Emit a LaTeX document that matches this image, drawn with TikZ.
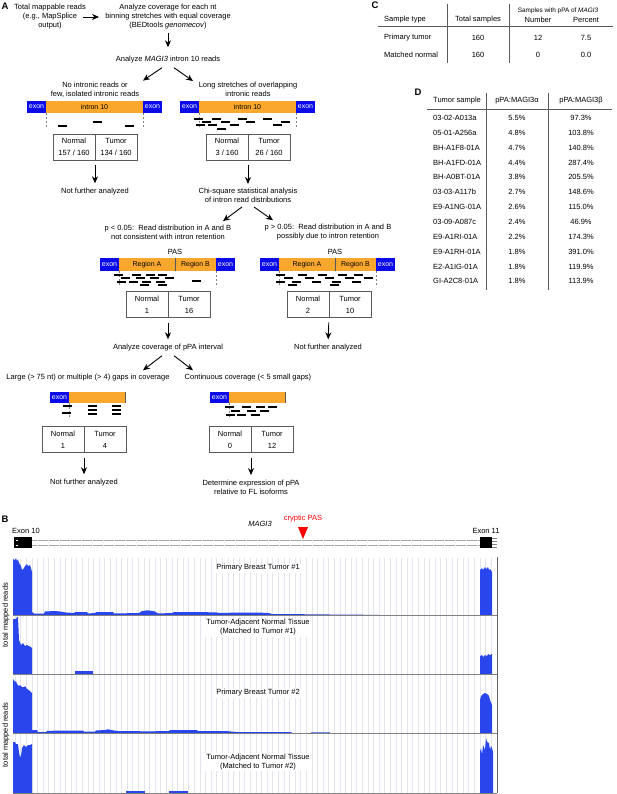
\documentclass[tikz,border=0pt]{standalone}
\usepackage{fontspec}
\setmainfont{Liberation Sans}
\usetikzlibrary{arrows.meta, positioning}

\definecolor{exonblue}{RGB}{10,10,235}
\definecolor{intronorange}{RGB}{250,168,45}
\definecolor{histblue}{RGB}{40,70,235}
\definecolor{gridgray}{RGB}{226,229,238}
\definecolor{boxgray}{RGB}{90,90,90}

\tikzset{
  txt/.style={font=\fontsize{7.5}{9}\selectfont, align=center, inner sep=1pt},
  panel/.style={font=\bfseries\fontsize{9.5}{10}\selectfont, inner sep=0pt},
  flow/.style={-{Stealth[length=7pt,width=6pt]}, line width=0.9pt},
  down/.style={flow, shorten <=5pt, shorten >=4pt},
  exonbox/.style={fill=exonblue, text=white, minimum width=19pt, minimum height=12pt, inner sep=0pt, outer sep=0pt, font=\fontsize{7}{8}\selectfont},
  intronbox/.style={fill=intronorange, minimum height=12pt, inner sep=0pt, outer sep=0pt, font=\fontsize{7}{8}\selectfont},
  cell/.style={draw=boxgray, line width=0.6pt, minimum width=42pt, minimum height=26pt, inner sep=0pt, outer sep=0pt, align=center, font=\fontsize{7.5}{12}\selectfont},
  read/.style={line width=1.1pt},
  sepline/.style={dash pattern=on 2pt off 2pt, gray, line width=0.5pt},
  tabline/.style={line width=0.7pt, boxgray},
  gridln/.style={gridgray, line width=0.5pt},
  hist/.style={fill=histblue},
}

\begin{document}
\begin{tikzpicture}[x=1pt, y=-1pt]
\useasboundingbox (0,0) rectangle (617,794);

%% panel A
\node[panel] (pA) at (5,6) {A};
\node[txt] (total) at (50,17) {Total mappable reads\\(e.g., MapSplice\\output)};
\node[txt] (cover) at (168,17) {Analyze coverage for each nt\\binning stretches with equal coverage\\(BEDtools \textit{genomecov})};
\node[txt] (intronq) at (168,60) {Analyze \textit{MAGI3} intron 10 reads};
\draw[flow, shorten <=-4pt, shorten >=5pt] (total.east) -- (cover.west);
\draw[flow, shorten <=2.5pt, shorten >=8pt] (cover) -- (intronq);

\node[txt] (noreads) at (95,89.5) {No intronic reads or\\few, isolated intronic reads};
\node[txt] (longreads) at (248,89.5) {Long stretches of overlapping\\intronic reads};
\draw[flow] ([xshift=-6pt,yshift=-3pt]intronq.south) -- ([xshift=48pt]noreads.north);
\draw[flow] ([xshift=6pt,yshift=-3pt]intronq.south) -- ([xshift=-55pt]longreads.north);

% intron 10, few reads
\node[exonbox, anchor=north west] (exa) at (27,101) {exon};
\node[intronbox, minimum width=97pt, right=0pt of exa] (ina) {intron 10};
\node[exonbox, right=0pt of ina] (exb) {exon};
\draw[sepline] (ina.south west) -- ++(0,14);
\draw[sepline] (ina.south east) -- ++(0,14);
\foreach \x/\y in {58/126, 93/122, 125/126}
  \draw[read] (\x,\y) -- ++(9,0);

% intron 10, long stretches
\node[exonbox, anchor=north west] (exc) at (180,101) {exon};
\node[intronbox, minimum width=97pt, right=0pt of exc] (inb) {intron 10};
\node[exonbox, right=0pt of inb] (exd) {exon};
\draw[sepline] (inb.south west) -- ++(0,14);
\draw[sepline] (inb.south east) -- ++(0,14);
\foreach \x/\y in {194/119, 212/119, 238/119, 263/119,
                   202/122, 221/122, 246/122, 281/122,
                   196/125, 208/125, 230/125, 273/125,
                   217/129}
  \draw[read] (\x,\y) -- ++(9,0);

\node[cell, anchor=north west] (t1n) at (53,134) {Normal\\157 / 160};
\node[cell, right=0pt of t1n] (t1t) {Tumor\\134 / 160};
\node[cell, anchor=north west] (t2n) at (206,134) {Normal\\3 / 160};
\node[cell, right=0pt of t2n] (t2t) {Tumor\\26 / 160};

\node[txt] (notfa1) at (95,191.5) {Not further analyzed};
\node[txt] (chisq) at (248,195.5) {Chi-square statistical analysis\\of intron read distributions};
\draw[down, shorten >=3.5pt] (t1n.south east) -- (notfa1.north);
\draw[down, shorten >=3pt] (t2n.south east) -- (chisq.north);

\node[txt] (plow) at (168,232.5) {p < 0.05:\ \ Read distribution in A and B\\not consistent with intron retention};
\node[txt] (phigh) at (328,232.5) {p > 0.05:\ \ Read distribution in A and B\\possibly due to intron retention};
\draw[flow] ([xshift=-6pt,yshift=-3pt]chisq.south) -- ([xshift=55pt,yshift=3pt]plow.north);
\draw[flow] ([xshift=6pt,yshift=-3pt]chisq.south) -- ([xshift=-55pt,yshift=3pt]phigh.north);

% regions A and B
\node[txt] (pasl) at (175,252) {PAS};
\node[exonbox, minimum height=13pt, anchor=north west] (exe) at (100,258) {exon};
\node[intronbox, minimum height=13pt, minimum width=56pt, right=0pt of exe] (rga) {Region A};
\node[intronbox, minimum height=13pt, minimum width=41pt, right=0pt of rga] (rgb) {Region B};
\node[exonbox, minimum height=13pt, right=0pt of rgb] (exf) {exon};
\draw[boxgray, line width=0.6pt] (rga.north east) -- (rga.south east);
\draw[sepline] (rga.south west) -- ++(0,16);
\draw[sepline] (rgb.south east) -- ++(0,16);
\foreach \x/\y in {114/275, 132/275, 146/275, 158/275,
                   121/278, 136/278, 150/278, 165/278,
                   117/282, 129/282, 142/282, 156/282, 192/281,
                   140/285, 158/285}
  \draw[read] (\x,\y) -- ++(9,0);

\node[txt] (pasr) at (335,252) {PAS};
\node[exonbox, minimum height=13pt, anchor=north west] (exg) at (260,258) {exon};
\node[intronbox, minimum height=13pt, minimum width=56pt, right=0pt of exg] (rgc) {Region A};
\node[intronbox, minimum height=13pt, minimum width=41pt, right=0pt of rgc] (rgd) {Region B};
\node[exonbox, minimum height=13pt, right=0pt of rgd] (exh) {exon};
\draw[boxgray, line width=0.6pt] (rgc.north east) -- (rgc.south east);
\draw[sepline] (rgc.south west) -- ++(0,16);
\draw[sepline] (rgd.south east) -- ++(0,16);
\foreach \x/\y in {276/275, 298/275, 318/275, 338/275, 354/275,
                   284/278, 305/278, 325/278, 345/278, 364/278,
                   276/282, 292/282, 312/282, 332/282, 352/282,
                   288/285, 330/285}
  \draw[read] (\x,\y) -- ++(9,0);

\node[cell, anchor=north west] (t3n) at (126,291.5) {Normal\\1};
\node[cell, right=0pt of t3n] (t3t) {Tumor\\16};
\node[cell, anchor=north west] (t4n) at (287,291.5) {Normal\\2};
\node[cell, right=0pt of t4n] (t4t) {Tumor\\10};

\node[txt] (covpa) at (168,348) {Analyze coverage of pPA interval};
\node[txt] (notfa2) at (328,348) {Not further analyzed};
\draw[down] (t3n.south east) -- (covpa.north);
\draw[down] (t4n.south east) -- (notfa2.north);

\node[txt] (gaps) at (88,378) {Large (> 75 nt) or multiple (> 4) gaps in coverage};
\node[txt] (contin) at (248,378) {Continuous coverage (< 5 small gaps)};
\draw[flow] ([xshift=-6pt,yshift=-3pt]covpa.south) -- ([xshift=55pt,yshift=3pt]gaps.north);
\draw[flow] ([xshift=6pt,yshift=-3pt]covpa.south) -- ([xshift=-55pt,yshift=3pt]contin.north);

% pPA interval
\node[exonbox, minimum height=10.5pt, anchor=north west] (exi) at (50,392) {exon};
\node[intronbox, minimum height=10.5pt, minimum width=56pt, right=0pt of exi] (pa1) {};
\draw[boxgray, line width=0.8pt] (pa1.north east) -- (pa1.south east);
\draw[sepline] (pa1.south west) -- ++(0,16);
\foreach \x/\y in {63/406, 62/413, 88/406, 88/410, 88/414, 112/406, 112/410, 112/414}
  \draw[read] (\x,\y) -- ++(9,0);

\node[exonbox, minimum height=10.5pt, anchor=north west] (exj) at (210,392) {exon};
\node[intronbox, minimum height=10.5pt, minimum width=56pt, right=0pt of exj] (pa2) {};
\draw[boxgray, line width=0.8pt] (pa2.north east) -- (pa2.south east);
\draw[sepline] (pa2.south west) -- ++(0,16);
\foreach \x/\y in {225/407, 242/407, 256/407, 268/407,
                   231/411, 247/411, 260/411,
                   226/415, 237/415, 251/415}
  \draw[read] (\x,\y) -- ++(9,0);

\node[cell, anchor=north west] (t5n) at (42,426.5) {Normal\\1};
\node[cell, right=0pt of t5n] (t5t) {Tumor\\4};
\node[cell, anchor=north west] (t6n) at (209,426.5) {Normal\\0};
\node[cell, right=0pt of t6n] (t6t) {Tumor\\12};

\node[txt] (notfa3) at (84,483) {Not further analyzed};
\node[txt] (determine) at (251,487.5) {Determine expression of pPA\\relative to FL isoforms};
\draw[down] (t5n.south east) -- (notfa3.north);
\draw[down] (t6n.south east) -- (determine.north);

%% panel C
\node[panel] (pC) at (375,5) {C};
\draw[tabline] (447,4) -- (447,63);
\draw[tabline] (509,4) -- (509,63);
\draw[tabline] (378,26) -- (613,26);
\node[txt, font=\fontsize{6.4}{8}\selectfont] (csub) at (558,11) {Samples with pPA of \textit{MAGI3}};
\node[txt, anchor=west] (ctype) at (383,20) {Sample type};
\node[txt] (ctot) at (478,20) {Total samples};
\node[txt] (cnum) at (538,20) {Number};
\node[txt] (cpct) at (586,20) {Percent};
\node[txt, anchor=west] (cr1) at (383,38) {Primary tumor};
\node[txt] (cr1t) at (478,38) {160};
\node[txt] (cr1n) at (538,38) {12};
\node[txt] (cr1p) at (586,38) {7.5};
\node[txt, anchor=west] (cr2) at (383,55) {Matched normal};
\node[txt] (cr2t) at (478,55) {160};
\node[txt] (cr2n) at (538,55) {0};
\node[txt] (cr2p) at (586,55) {0.0};

%% panel D
\node[panel] (pD) at (418,92) {D};
\draw[tabline] (486,93) -- (486,290);
\draw[tabline] (548,93) -- (548,290);
\draw[tabline] (427,109) -- (612,109);
\node[txt, anchor=west] (dhs) at (432,101) {Tumor sample};
\node[txt] (dha) at (517,101) {pPA:MAGI3α};
\node[txt] (dhb) at (581,101) {pPA:MAGI3β};
\foreach \smp/\va/\vb [count=\i from 0] in {03-02-A013a/5.5/97.3, 05-01-A256a/4.8/103.8,
    BH-A1F8-01A/4.7/140.8, BH-A1FD-01A/4.4/287.4, BH-A0BT-01A/3.8/205.5,
    03-03-A117b/2.7/148.6, E9-A1NG-01A/2.6/115.0, 03-09-A087c/2.4/46.9,
    E9-A1RI-01A/2.2/174.3, E9-A1RH-01A/1.8/391.0, E2-A1IG-01A/1.8/119.9,
    GI-A2C8-01A/1.8/113.9} {
  \node[txt, anchor=west] (ds\i) at (432,118+14.85*\i) {\smp};
  \node[txt] (da\i) at (517,118+14.85*\i) {\va\%};
  \node[txt] (db\i) at (581,118+14.85*\i) {\vb\%};
}

%% panel B
\node[panel] (pB) at (5,519) {B};
\node[txt, anchor=west] (ex10) at (11,531) {Exon 10};
\node[txt] (ex11) at (486,531) {Exon 11};
\node[txt] (gene) at (260,524) {\textit{MAGI3}};
\node[txt, text=red] (cpas) at (303,519) {cryptic PAS};
\fill[red] (298,527) -- (308,527) -- (303,539) -- cycle;
\draw[gray!70, line width=0.7pt, dash pattern=on 0.6pt off 0.5pt] (32,540.5) -- (480,540.5);
\draw[gray!70, line width=0.7pt, dash pattern=on 0.6pt off 0.5pt] (32,545.5) -- (480,545.5);
\fill[black] (14,537) rectangle (32,548);
\fill[black] (480,537) rectangle (492,548);
\draw[white, line width=0.5pt] (15.5,540.5) -- (18,540.5) (15.5,545.5) -- (18,545.5);
\draw[gray, line width=0.5pt] (492,538) -- (497,538) (492,541) -- (497,541) (492,544) -- (497,544) (492,547) -- (497,547);

% tracks
\foreach \t/\b in {558/615, 615/674, 674/733, 733/793} {
  \foreach \i in {0,...,85}
    \draw[gridln] ({15+5.6*\i},\t) -- ({15+5.6*\i},\b);
}
\node[txt, fill=white] (lab1) at (258,568) {Primary Breast Tumor \#1};
\node[txt, fill=white] (lab2) at (258,627.5) {Tumor-Adjacent Normal Tissue\\(Matched to Tumor \#1)};
\node[txt, fill=white] (lab3) at (258,693) {Primary Breast Tumor \#2};
\node[txt, fill=white] (lab4) at (258,762) {Tumor-Adjacent Normal Tissue\\(Matched to Tumor \#2)};

% tumor 1
\fill[hist] (13,615) -- (13,559) -- (15,560) -- (16,558) -- (17,561) -- (18,559) -- (19,563) -- (21,566)
  -- (22,570) -- (24,568) -- (25,566) -- (27,564) -- (28,566) -- (30,565) -- (31,568) -- (32,572)
  -- (32,612) -- (34,613.5) -- (44,613.5) -- (45,611.5) -- (55,611) -- (60,611.5) -- (66,612.5)
  -- (74,613) -- (75,612) -- (87,612) -- (88,613.5) -- (95,613) -- (96,612) -- (113,612)
  -- (114,613.5) -- (139,613) -- (142,611) -- (148,610.3) -- (155,611.5) -- (158,613.5)
  -- (172,613) -- (174,612) -- (200,612) -- (217,612.5) -- (220,613) -- (240,612.5)
  -- (268,612.8) -- (272,614) -- (300,614.2) -- (330,614.5) -- (360,614.7) -- (380,615) -- cycle;
\fill[hist] (480,615) -- (480,570) -- (482,568) -- (483,570) -- (485,567) -- (486,569) -- (488,567)
  -- (489,570) -- (490,569) -- (492,572) -- (492,615) -- cycle;
% normal 1
\fill[hist] (13,674) -- (13,619) -- (16,619) -- (17,617) -- (18,617) -- (19,640) -- (21,645) -- (23,643)
  -- (25,646) -- (27,645) -- (29,646) -- (31,647) -- (32,648) -- (32,674) -- cycle;
\fill[hist] (75,674) rectangle (93,671);
\fill[hist] (480,674) -- (480,656) -- (482,655) -- (483,657) -- (485,655) -- (487,656) -- (488,654)
  -- (490,655) -- (492,654) -- (492,674) -- cycle;
% tumor 2
\fill[hist] (13,733) -- (13,679) -- (14,680) -- (15,682) -- (16,681) -- (17,684) -- (19,686) -- (20,685)
  -- (22,687) -- (24,687) -- (25,686) -- (27,689) -- (29,690) -- (31,692) -- (32,693)
  -- (32,730) -- (37,730) -- (38,732) -- (46,732) -- (47,731) -- (60,730.5) -- (83,730.5)
  -- (84,731.5) -- (95,731.5) -- (96,730.5) -- (105,730) -- (108,729.3) -- (114,730.5)
  -- (118,731) -- (138,731) -- (142,731.5) -- (169,731) -- (170,730) -- (197,730.2)
  -- (198,731) -- (228,731.2) -- (236,732) -- (291,732) -- (292,733) -- (311,733)
  -- (311,732.3) -- (330,732.3) -- (330,733) -- cycle;
\fill[hist] (480,733) -- (480,700) -- (481,696) -- (483,694) -- (485,693) -- (487,694) -- (489,696)
  -- (490,700) -- (492,705) -- (492,733) -- cycle;
% normal 2
\fill[hist] (13,793) -- (13,742) -- (15,742) -- (16,744) -- (18,744) -- (19,752) -- (20,757) -- (21,756)
  -- (22,748) -- (24,745) -- (26,747) -- (28,745) -- (30,745) -- (32,744) -- (32,793) -- cycle;
\fill[hist] (126,793) rectangle (145,791);
\fill[hist] (169,793) rectangle (188,791);
\fill[hist] (480,793) -- (480,752) -- (481,748) -- (482,755) -- (483,745) -- (485,750) -- (486,738)
  -- (487,742) -- (489,743) -- (490,750) -- (491,746) -- (492,748) -- (493,752) -- (493,793) -- cycle;

\foreach \b in {615, 674, 733, 793}
  \draw[gray, line width=0.8pt] (13,\b) -- (497,\b);
\draw[gray!80!black, line width=1pt] (497,557) -- (497,793);
\node[txt, rotate=90] (yl1) at (6,615) {total mapped reads};
\node[txt, rotate=90] (yl2) at (6,735) {total mapped reads};
\end{tikzpicture}
\end{document}
